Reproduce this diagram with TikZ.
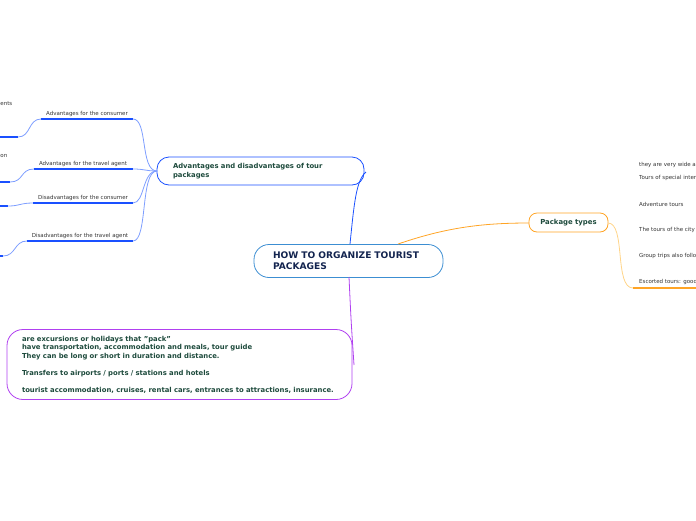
\documentclass[tikz,border=0pt]{standalone}
\usepackage{fontspec}
\setmainfont{DejaVu Sans}
\definecolor{rootline}{HTML}{3C8ED2}
\definecolor{navy}{HTML}{13244F}
\definecolor{dgreen}{HTML}{1D4A3C}
\definecolor{bblue}{HTML}{1A50FF}
\definecolor{lblue}{HTML}{7E9EFF}
\definecolor{orng}{HTML}{FFA425}
\definecolor{lorng}{HTML}{FFD488}
\definecolor{purp}{HTML}{B040F0}
\definecolor{txtgray}{HTML}{333333}
\begin{document}
\begin{tikzpicture}[x=1pt,y=-1pt,
  smalltxt/.style={font=\fontsize{5.5}{6.5}\selectfont, text=txtgray, inner sep=0pt},
  boldbox/.style={font=\bfseries\fontsize{6.85}{8.5}\selectfont, text=dgreen, align=left},
  underl/.style={line width=1.2pt},
  conn/.style={line width=0.8pt}
]
\useasboundingbox (0,0) rectangle (696,520);
\clip (0,0) rectangle (696,520);

% central node
\node[draw=rootline, line width=0.8pt, rounded corners=15pt, minimum width=189pt, minimum height=33pt,
  text width=151pt, inner xsep=19pt, align=left, text=navy,
  font=\bfseries\fontsize{9.1}{11}\selectfont] (root) at (348.5,261)
  {HOW TO ORGANIZE TOURIST\\PACKAGES};

% advantages node
\node[draw=bblue, line width=0.8pt, rounded corners=12pt, minimum width=207pt, minimum height=28pt,
  text width=175pt, inner xsep=16pt, boldbox] (adv) at (260.5,171)
  {Advantages and disadvantages of tour\\packages};

% package types node
\node[draw=orng, line width=0.8pt, rounded corners=8pt, minimum width=79pt, minimum height=19pt,
  font=\bfseries\fontsize{6.9}{8}\selectfont, text=dgreen] (pack) at (568.5,222.5) {Package types};

% purple node
\node[draw=purp, line width=0.8pt, rounded corners=16pt, minimum width=345pt, minimum height=70pt,
  text width=315pt, inner xsep=15pt, boldbox] (desc) at (179.5,364.5)
  {are excursions or holidays that "pack"\\
   have transportation, accommodation and meals, tour guide\\
   They can be long or short in duration and distance.\\[8.5pt]
   Transfers to airports / ports / stations and hotels\\[8.5pt]
   tourist accommodation, cruises, rental cars, entrances to attractions, insurance.};

% main connectors
\coordinate (rootN1) at (350,244);
\coordinate (rootN2) at (398,244);
\coordinate (rootS) at (349,277);
\coordinate (advR) at (366,172);
\coordinate (advL) at (157,171);
\coordinate (packL) at (529,223);
\coordinate (packR) at (608,223);
\coordinate (descR) at (354,365);
\draw[bblue, conn] (rootN1) .. controls (354,205) and (356,180) .. (advR);
\draw[orng, conn] (rootN2) .. controls (445,228) and (480,223) .. (packL);
\draw[purp, conn] (rootS) .. controls (351,320) .. (descR);

% left sub-branches
\node[smalltxt, anchor=south] (a1) at (87,117) {Advantages for the consumer};
\node[smalltxt, anchor=south] (a2) at (83,167) {Advantages for the travel agent};
\node[smalltxt, anchor=south] (a3) at (83,201) {Disadvantages for the consumer};
\node[smalltxt, anchor=south] (a4) at (80,239) {Disadvantages for the travel agent};
\node[smalltxt, anchor=east] (b1) at (12.5,104) {ents};
\node[smalltxt, anchor=west] (b2) at (0.3,156) {on};

\coordinate (a1r) at (133,119); \coordinate (a1l) at (41,119);
\coordinate (a2r) at (133,169); \coordinate (a2l) at (34,169);
\coordinate (a3r) at (133,203); \coordinate (a3l) at (33,203);
\coordinate (a4r) at (133,241); \coordinate (a4l) at (27,241);
\coordinate (c1r) at (18,137); \coordinate (c1l) at (-2,137);
\coordinate (c2r) at (10,182); \coordinate (c2l) at (-2,182);
\coordinate (c3r) at (8,206); \coordinate (c3l) at (-2,206);
\coordinate (c4r) at (3,256); \coordinate (c4l) at (-2,256);

\foreach \i in {1,2,3,4}{
  \draw[bblue, underl] (a\i l) -- (a\i r);
  \draw[bblue, underl] (c\i l) -- (c\i r);
}
\draw[lblue, conn] (a1r) .. controls (148,119) and (140,171) .. (advL);
\draw[lblue, conn] (a2r) .. controls (145,169) and (145,171) .. (advL);
\draw[lblue, conn] (a3r) .. controls (145,203) and (142,171) .. (advL);
\draw[lblue, conn] (a4r) .. controls (148,241) and (140,171) .. (advL);
\draw[lblue, conn] (a1l) .. controls (28,119) and (31,137) .. (c1r);
\draw[lblue, conn] (a2l) .. controls (20,169) and (24,182) .. (c2r);
\draw[lblue, conn] (a3l) .. controls (20,203) and (20,206) .. (c3r);
\draw[lblue, conn] (a4l) .. controls (14,241) and (16,256) .. (c4r);

% package type children
\node[smalltxt, anchor=west] (p1) at (639,165) {they are very wide a};
\node[smalltxt, anchor=west] (p2) at (639,178) {Tours of special inter};
\node[smalltxt, anchor=west] (p3) at (639,204) {Adventure tours};
\node[smalltxt, anchor=west] (p4) at (639,230) {The tours of the city};
\node[smalltxt, anchor=west] (p5) at (639,256) {Group trips also follo};
\node[smalltxt, anchor=west] (p6) at (639,282) {Escorted tours: good};
\coordinate (p6l) at (633,288); \coordinate (p6r) at (700,288);
\draw[lorng, conn] (packR) .. controls (626,223) and (614,288) .. (p6l);
\draw[orng, underl] (p6l) -- (p6r);
\end{tikzpicture}
\end{document}
